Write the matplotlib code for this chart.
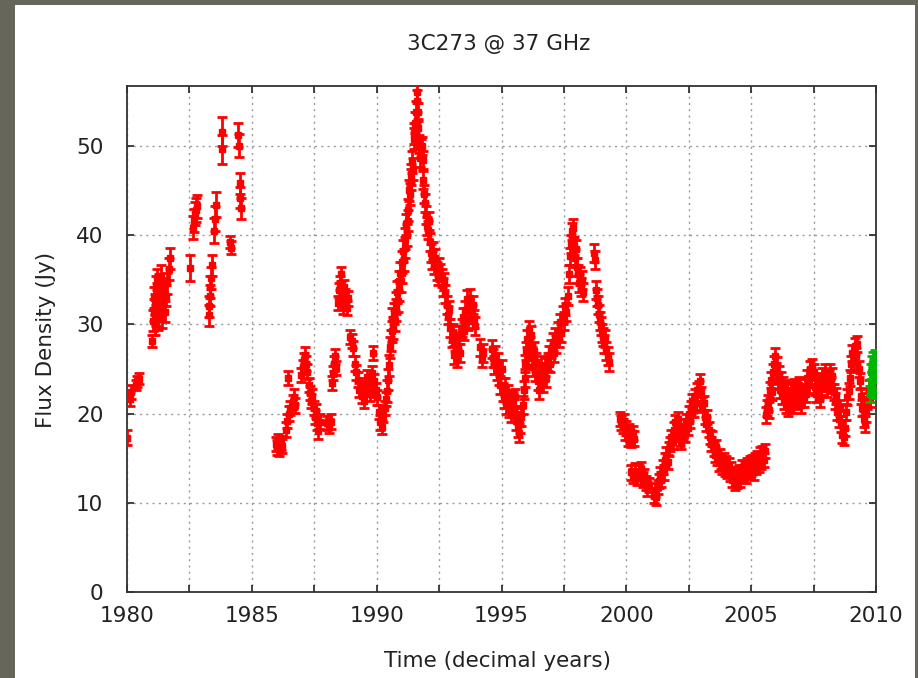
import matplotlib.pyplot as plt
from matplotlib.patches import Rectangle
from matplotlib.ticker import MultipleLocator

# 1980 - 1985, sparse early points (per-point errors)
t_a = [1979.98, 1980.14, 1980.18, 1980.36, 1980.42, 1980.47,
       1981.02, 1981.05, 1981.07, 1981.09, 1981.11, 1981.13, 1981.16, 1981.18, 1981.20, 1981.22,
       1981.25, 1981.27, 1981.30, 1981.32, 1981.35, 1981.38, 1981.41, 1981.44, 1981.48, 1981.52,
       1981.56, 1981.60, 1981.68, 1981.74,
       1982.52, 1982.64, 1982.68, 1982.72, 1982.76, 1982.80,
       1983.27, 1983.29, 1983.31, 1983.33, 1983.36, 1983.39, 1983.47, 1983.52, 1983.57,
       1983.79, 1983.81, 1984.11, 1984.15, 1984.45, 1984.48, 1984.52, 1984.53, 1984.55]
f_a = [17.3, 21.6, 22.4, 23.2, 23.6, 23.9,
       28.1, 30.4, 31.6, 33.0, 30.0, 32.2, 34.2, 31.0, 33.4, 35.0,
       30.6, 32.6, 34.4, 31.8, 33.6, 35.4, 30.8, 32.4, 34.0, 31.4,
       33.2, 34.6, 36.2, 37.4,
       36.3, 40.8, 41.6, 42.4, 42.8, 43.2,
       31.0, 32.0, 33.2, 34.2, 35.2, 36.6, 40.5, 41.8, 43.4,
       51.6, 49.6, 39.2, 38.6, 51.2, 50.0, 45.8, 44.2, 43.0]
e_a = [0.8, 0.8, 0.8, 0.6, 0.6, 0.6,
       0.7, 1.2, 1.2, 1.2, 1.2, 1.2, 1.2, 1.2, 1.2, 1.2,
       1.2, 1.2, 1.2, 1.2, 1.2, 1.2, 1.2, 1.2, 1.2, 1.2,
       1.2, 1.2, 1.2, 1.2,
       1.5, 1.3, 1.3, 1.3, 1.3, 1.3,
       1.2, 1.2, 1.2, 1.2, 1.2, 1.2, 1.4, 1.4, 1.4,
       1.6, 1.6, 0.7, 0.7, 1.3, 1.3, 1.2, 1.2, 1.2]

# 1986 - 1990.4
t_b = [1985.95, 1986.00, 1986.05, 1986.10, 1986.15, 1986.20,
       1986.38, 1986.42, 1986.44, 1986.47, 1986.52, 1986.65, 1986.70, 1986.73,
       1986.98, 1987.03, 1987.08, 1987.12, 1987.17, 1987.22,
       1987.28, 1987.33, 1987.38, 1987.42, 1987.47, 1987.52, 1987.57, 1987.62, 1987.66, 1987.72,
       1988.02, 1988.10, 1988.18,
       1988.20, 1988.25, 1988.30, 1988.34, 1988.38,
       1988.44, 1988.48, 1988.52, 1988.56, 1988.60, 1988.65, 1988.70, 1988.75, 1988.80, 1988.85,
       1988.95, 1989.00, 1989.05,
       1989.12, 1989.18, 1989.24, 1989.30, 1989.36, 1989.42, 1989.48, 1989.55, 1989.62, 1989.68,
       1989.74, 1989.80, 1989.86, 1989.90, 1989.96, 1990.02,
       1990.08, 1990.14, 1990.20, 1990.26, 1990.32, 1990.38]
f_b = [16.6, 16.2, 16.9, 16.0, 16.7, 16.4,
       18.2, 19.2, 24.0, 20.0, 20.6, 21.3, 21.9, 20.9,
       24.3, 25.2, 26.0, 26.6, 25.6, 24.7,
       23.2, 22.3, 21.4, 21.9, 20.6, 19.6, 20.3, 18.9, 18.0, 19.1,
       18.9, 18.6, 19.1,
       23.4, 24.5, 25.6, 26.4, 25.1,
       32.4, 33.8, 34.6, 35.6, 33.0, 32.0, 34.2, 33.2, 31.8, 32.9,
       28.6, 28.1, 27.3,
       25.6, 24.6, 23.8, 22.6, 23.2, 22.0, 21.4, 22.8, 24.1, 23.1,
       22.2, 24.5, 26.8, 23.6, 22.6, 21.8,
       20.2, 19.0, 18.5, 19.8, 20.6, 21.6]
e_b = 0.8

# 1990.4 - 1991.6, the big flare
t_c1 = [1990.42, 1990.46, 1990.50, 1990.53, 1990.57, 1990.60, 1990.63, 1990.66, 1990.70, 1990.73,
        1990.76, 1990.79, 1990.82, 1990.85, 1990.88, 1990.91, 1990.94, 1990.97, 1991.00, 1991.03,
        1991.06, 1991.09, 1991.12, 1991.15, 1991.18, 1991.21, 1991.24, 1991.27, 1991.30, 1991.33,
        1991.36, 1991.39, 1991.42, 1991.45, 1991.48, 1991.51, 1991.54, 1991.57, 1991.60, 1991.62]
f_c1 = [22.5, 23.8, 25.4, 27.4, 28.2, 29.2, 30.6, 29.6, 31.2, 30.4,
        32.4, 31.6, 33.6, 32.6, 34.8, 33.8, 35.8, 34.8, 37.0, 35.8,
        38.2, 37.2, 39.6, 38.6, 41.2, 40.0, 42.8, 41.6, 45.0, 44.6,
        46.8, 46.2, 48.2, 47.4, 50.8, 51.4, 52.6, 53.8, 55.0, 56.0]
e_c1 = 1.2

# 1991.6 - 1995.6, decay
t_c2 = [1991.65, 1991.67, 1991.70, 1991.73, 1991.76, 1991.80, 1991.84, 1991.87, 1991.90, 1991.93,
        1991.96, 1992.00, 1992.04, 1992.08, 1992.12, 1992.16, 1992.20, 1992.25, 1992.30, 1992.35,
        1992.40, 1992.45, 1992.50, 1992.55, 1992.60, 1992.65, 1992.70, 1992.75, 1992.80, 1992.85,
        1992.90, 1992.95, 1993.00, 1993.05, 1993.10, 1993.15, 1993.20, 1993.25, 1993.30, 1993.35,
        1993.40, 1993.45, 1993.50, 1993.55, 1993.60, 1993.65, 1993.70, 1993.75, 1993.80, 1993.85,
        1993.90, 1993.95,
        1994.15, 1994.20, 1994.25,
        1994.60, 1994.65, 1994.70, 1994.75, 1994.80, 1994.85, 1994.90, 1994.95, 1995.00, 1995.05,
        1995.10, 1995.15, 1995.20, 1995.25, 1995.30, 1995.35, 1995.40, 1995.45, 1995.50, 1995.55]
f_c2 = [53.8, 52.0, 50.2, 48.6, 49.8, 50.0, 48.4, 46.2, 44.6, 43.6,
        42.2, 41.0, 40.6, 41.6, 39.2, 38.0, 37.2, 38.2, 36.6, 37.4,
        36.0, 35.4, 36.4, 35.8, 35.2, 34.2, 34.8, 33.4, 32.2, 31.0,
        31.6, 29.6, 28.4, 29.0, 26.6, 28.0, 26.2, 27.6, 28.8, 26.8,
        29.6, 30.8, 29.2, 31.6, 32.8, 30.4, 31.8, 33.0, 31.2, 32.2,
        30.6, 29.8,
        27.4, 26.2, 26.8,
        27.2, 26.2, 25.4, 26.6, 24.8, 25.8, 24.2, 23.2, 25.0, 22.4,
        21.6, 23.0, 21.0, 22.2, 20.6, 21.6, 20.0, 21.4, 20.6, 21.8]
e_c2 = 1.0

# 1995.6 - 1999.3
t_d = [1995.60, 1995.65, 1995.70, 1995.75, 1995.80, 1995.85, 1995.90, 1995.93, 1995.96, 1996.00,
       1996.04, 1996.08, 1996.12, 1996.16, 1996.20, 1996.24, 1996.28, 1996.32, 1996.36, 1996.40,
       1996.45, 1996.50, 1996.55, 1996.60, 1996.65, 1996.70, 1996.75, 1996.80, 1996.85, 1996.90,
       1996.95, 1997.00, 1997.05, 1997.10, 1997.15, 1997.20, 1997.25, 1997.30, 1997.35, 1997.40,
       1997.45, 1997.50, 1997.55, 1997.60, 1997.65, 1997.70, 1997.74, 1997.78, 1997.82, 1997.86,
       1997.90, 1997.94, 1997.98, 1998.02, 1998.06, 1998.10, 1998.14, 1998.18, 1998.22, 1998.26,
       1998.70, 1998.74,
       1998.80, 1998.84, 1998.88, 1998.92, 1998.96, 1999.00, 1999.04, 1999.08, 1999.12, 1999.16,
       1999.20, 1999.25, 1999.30]
f_d = [19.2, 18.4, 17.8, 18.8, 19.6, 21.0, 22.6, 24.0, 25.6, 27.0,
       28.4, 26.2, 29.4, 27.6, 28.8, 26.4, 25.2, 27.0, 24.6, 25.8,
       23.6, 22.6, 24.4, 25.4, 23.4, 24.6, 25.2, 24.0, 25.8, 26.6,
       25.6, 27.2, 28.0, 26.8, 28.6, 27.8, 29.2, 28.4, 30.2, 29.0,
       31.0, 30.4, 32.0, 31.4, 33.2, 35.6, 37.6, 39.0, 40.4, 40.8,
       38.8, 37.4, 38.4, 36.4, 35.6, 34.6, 35.4, 34.2, 35.0, 33.6,
       38.0, 37.2,
       33.8, 33.0, 32.2, 31.2, 30.4, 29.8, 29.0, 28.6, 27.8, 28.4,
       27.0, 26.4, 25.8]
e_d = 1.0

# 1999.75 - 2000.9
t_e1 = [1999.75, 1999.80, 1999.85, 1999.90, 1999.95, 2000.00, 2000.05, 2000.10, 2000.15, 2000.20,
        2000.25, 2000.30,
        2000.20, 2000.28, 2000.36, 2000.44, 2000.52, 2000.60, 2000.66, 2000.72, 2000.78, 2000.84,
        2000.90]
f_e1 = [19.4, 19.0, 18.6, 19.2, 17.8, 18.4, 17.2, 18.0, 17.4, 17.0,
        17.8, 17.2,
        13.4, 13.0, 13.6, 12.8, 13.4, 13.8, 12.6, 13.0, 12.2, 11.6,
        12.0]
e_e1 = 0.8

# 2001.1 - 2005.55
t_e2 = [2001.10, 2001.15, 2001.20, 2001.25, 2001.30, 2001.35, 2001.40, 2001.45, 2001.50, 2001.55,
        2001.60, 2001.65, 2001.70, 2001.75, 2001.80, 2001.85, 2001.90, 2001.95, 2002.00, 2002.05,
        2002.10, 2002.15, 2002.20, 2002.25, 2002.30, 2002.35, 2002.40, 2002.45, 2002.50, 2002.55,
        2002.60, 2002.65, 2002.70, 2002.75, 2002.80, 2002.85, 2002.90, 2002.95, 2003.00, 2003.05,
        2003.10, 2003.15, 2003.20, 2003.25, 2003.30, 2003.35, 2003.40, 2003.45, 2003.50, 2003.55,
        2003.60, 2003.65, 2003.70, 2003.75, 2003.80, 2003.85, 2003.90, 2003.95, 2004.00, 2004.05,
        2004.10, 2004.15, 2004.20, 2004.25, 2004.30, 2004.35, 2004.40, 2004.45, 2004.50, 2004.55,
        2004.60, 2004.65, 2004.70, 2004.75, 2004.80, 2004.85, 2004.90, 2004.95, 2005.00, 2005.05,
        2005.10, 2005.15, 2005.20, 2005.25, 2005.30, 2005.35, 2005.40, 2005.45, 2005.50, 2005.55]
f_e2 = [10.8, 11.4, 10.6, 11.8, 12.4, 13.2, 12.6, 14.0, 13.4, 14.8,
        15.4, 14.6, 16.0, 16.6, 17.4, 16.8, 18.2, 19.0, 18.4, 19.4,
        18.0, 17.2, 16.8, 17.8, 18.6, 17.6, 19.2, 18.4, 20.0, 19.2,
        20.6, 21.4, 20.4, 22.0, 21.2, 22.6, 22.8, 23.6, 22.2, 21.0,
        21.2, 19.6, 18.8, 19.6, 18.2, 17.4, 16.6, 17.2, 16.0, 15.4,
        16.2, 15.0, 14.4, 15.2, 14.6, 14.0, 14.8, 13.8, 14.4, 13.6,
        14.2, 13.2, 13.8, 12.6, 13.2, 12.2, 12.8, 12.4, 13.4, 12.6,
        13.2, 14.0, 13.4, 13.8, 13.0, 14.2, 13.6, 14.4, 13.8, 14.6,
        13.4, 14.8, 14.0, 15.0, 14.2, 15.4, 14.6, 15.6, 14.8, 15.8]
e_e2 = 0.8

# 2005.6 - 2009.74
t_f = [2005.60, 2005.63, 2005.66, 2005.70, 2005.74, 2005.78, 2005.82, 2005.86, 2005.90, 2005.94,
       2005.98, 2006.02, 2006.06, 2006.10, 2006.14, 2006.18, 2006.22, 2006.26, 2006.30, 2006.34,
       2006.38, 2006.42, 2006.46, 2006.50, 2006.55, 2006.60, 2006.65, 2006.70, 2006.75, 2006.80,
       2006.85, 2006.90, 2006.95, 2007.00, 2007.05, 2007.10, 2007.15, 2007.20, 2007.25, 2007.30,
       2007.35, 2007.40, 2007.45, 2007.50, 2007.55, 2007.60, 2007.65, 2007.70, 2007.75, 2007.80,
       2007.85, 2007.90, 2007.95, 2008.00, 2008.05, 2008.10, 2008.15, 2008.20, 2008.25, 2008.30,
       2008.35, 2008.40, 2008.45, 2008.50, 2008.55, 2008.60, 2008.65, 2008.70, 2008.75, 2008.80,
       2008.85, 2008.90, 2008.95, 2009.00, 2009.05, 2009.10, 2009.15, 2009.20, 2009.25, 2009.30,
       2009.35, 2009.40, 2009.45, 2009.50, 2009.55, 2009.60, 2009.65, 2009.70, 2009.74]
f_f = [19.8, 20.6, 21.2, 20.4, 22.6, 23.8, 22.4, 24.6, 25.6, 26.4,
       24.8, 25.4, 23.6, 24.4, 22.6, 23.8, 22.0, 23.2, 21.4, 22.8,
       21.0, 22.4, 20.6, 22.0, 21.2, 22.6, 21.0, 23.0, 21.6, 22.8,
       21.4, 23.2, 22.0, 21.0, 22.4, 21.6, 23.0, 22.2, 24.0, 23.2,
       25.0, 24.2, 25.2, 24.6, 23.0, 22.2, 23.6, 22.4, 21.6, 23.0,
       24.2, 23.4, 24.6, 23.6, 22.8, 24.0, 24.6, 23.2, 24.2, 22.4,
       21.4, 22.0, 20.2, 19.4, 20.6, 18.8, 17.6, 17.4, 18.4, 20.2,
       21.8, 22.5, 24.0, 25.6, 26.8, 25.8, 27.6, 26.4, 27.8, 25.0,
       23.6, 22.0, 20.6, 19.4, 18.8, 20.0, 21.4, 22.8, 21.6]
e_f = 0.9

# newest data (green)
t_g = [2009.76, 2009.78, 2009.80, 2009.82, 2009.84, 2009.86, 2009.88, 2009.90, 2009.92, 2009.94,
       2009.96, 2009.98]
f_g = [22.2, 23.0, 24.6, 23.8, 25.6, 24.4, 26.0, 25.2, 22.6, 24.8, 26.2, 25.0]
e_g = 0.9

red_segments = [(t_a, f_a, e_a), (t_b, f_b, e_b), (t_c1, f_c1, e_c1), (t_c2, f_c2, e_c2),
                (t_d, f_d, e_d), (t_e1, f_e1, e_e1), (t_e2, f_e2, e_e2), (t_f, f_f, e_f)]

txt = '#222222'
W, H = 918, 678

fig = plt.figure(figsize=(W / 100, H / 100), dpi=100, facecolor='#66665a')
# white slide panel, kept behind the axes
fig.patches.append(Rectangle((15 / W, 0), 900 / W, 673 / H, transform=fig.transFigure,
                             facecolor='white', edgecolor='none', zorder=-10))

ax = fig.add_axes([127 / W, (H - 592) / H, 749 / W, 506 / H])
ax.set_zorder(5)
ax.set_facecolor('white')

bar_style = dict(fmt='s', ms=3.8, elinewidth=2.0, capsize=3.6, capthick=2.0)
for t, f, e in red_segments:
    ax.errorbar(t, f, yerr=e, color='#ff0000', zorder=3, **bar_style)
ax.errorbar(t_g, f_g, yerr=e_g, color='#00b400', zorder=4, **bar_style)

ax.set_xlim(1980, 2010)
ax.set_ylim(0, 56.7)
ax.xaxis.set_major_locator(MultipleLocator(5))
ax.xaxis.set_minor_locator(MultipleLocator(2.5))
ax.yaxis.set_major_locator(MultipleLocator(10))

grid_style = dict(color='#9a9a9a', linestyle=(0, (1.5, 3)), linewidth=1.0)
ax.grid(True, axis='x', which='both', **grid_style)
ax.grid(True, axis='y', which='major', **grid_style)
ax.set_axisbelow(True)

ax.tick_params(which='both', direction='in', top=True, right=True, length=5, width=1.2,
               color='#222222')
ax.tick_params(axis='x', which='major', labelsize=15.5, labelcolor=txt, pad=10)
ax.tick_params(axis='y', which='major', labelsize=15.5, labelcolor=txt, pad=17)
for s in ax.spines.values():
    s.set_color('#333333')
    s.set_linewidth(1.3)

fig.text(499 / W, 1 - 44 / H, '3C273 @ 37 GHz', ha='center', va='center', fontsize=15.5,
         color=txt)
fig.text(497 / W, 1 - 661 / H, 'Time (decimal years)', ha='center', va='center',
         fontsize=15.5, color=txt)
fig.text(46 / W, 1 - 340 / H, 'Flux Density (Jy)', ha='center', va='center', rotation=90,
         fontsize=15.5, color=txt)

fig.savefig('out.png', dpi=100, facecolor=fig.get_facecolor())
